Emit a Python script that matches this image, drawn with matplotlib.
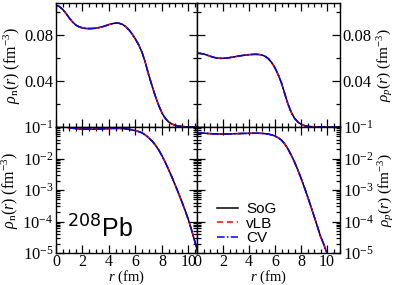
import matplotlib
matplotlib.use("Agg")
import matplotlib.pyplot as plt
import numpy as np
from matplotlib.ticker import MultipleLocator, LogLocator, NullFormatter, FixedFormatter, FixedLocator

plt.rcParams['font.family'] = 'Liberation Serif'
plt.rcParams['mathtext.fontset'] = 'custom'
plt.rcParams['mathtext.rm'] = 'Liberation Serif'
plt.rcParams['mathtext.it'] = 'Liberation Serif:italic'

# 208Pb 밀도 (fm^-3), r 간격 0.25 fm
r = np.arange(0, 11.01, 0.25)
rho_n = [0.1060, 0.1050, 0.1025, 0.0990, 0.0950, 0.0915, 0.0888, 0.0872, 0.0863,
         0.0858, 0.0857, 0.0858, 0.0861, 0.0866, 0.0873, 0.0882, 0.0892, 0.0900,
         0.0905, 0.0904, 0.0895, 0.0876, 0.0848, 0.0810, 0.0765, 0.0715, 0.0650,
         0.0560, 0.0455, 0.0360, 0.0270, 0.0190, 0.0123, 0.0076, 0.0045, 0.0026,
         0.00145, 0.00080, 0.00043, 0.000225, 0.000115, 0.000052, 0.000022,
         0.0000092, 0.0000040]
rho_p = [0.0642, 0.0641, 0.0636, 0.0627, 0.0617, 0.0608, 0.0601, 0.0598, 0.0598,
         0.0600, 0.0604, 0.0609, 0.0614, 0.0619, 0.0623, 0.0627, 0.0630, 0.0632,
         0.0633, 0.0632, 0.0627, 0.0615, 0.0594, 0.0561, 0.0515, 0.0455, 0.0383,
         0.0290, 0.0200, 0.0128, 0.0077, 0.0044, 0.0024, 0.00125, 0.00063,
         0.00031, 0.000150, 0.000072, 0.000034, 0.000019, 0.0000098, 0.0000048,
         0.0000023, 0.0000011, 0.0000005]

series = [("SoG", "black", "-"), ("vLB", "red", (0, (4, 2.5))), ("CV", "blue", (0, (5, 1.5, 1, 1.5)))]

W, H = 399, 285
fig = plt.figure(figsize=(W / 100, H / 100), dpi=100)

def box(x0, x1, y0, y1):
    return [x0 / W, (H - y1) / H, (x1 - x0) / W, (y1 - y0) / H]

ax_tl = fig.add_axes(box(56, 197, 3, 127))
ax_tr = fig.add_axes(box(197, 340, 3, 127))
ax_bl = fig.add_axes(box(56, 197, 127, 253))
ax_br = fig.add_axes(box(197, 340, 127, 253))

for ax, rho in [(ax_tl, rho_n), (ax_tr, rho_p), (ax_bl, rho_n), (ax_br, rho_p)]:
    for name, c, ls in series:
        ax.plot(r, rho, color=c, linestyle=ls, lw=1.1, label=name)
    ax.tick_params(which='both', direction='in', top=True, right=True,
                   labelsize=12, width=0.9, pad=2)
    ax.tick_params(axis='x', pad=1, labelsize=11.5)
    ax.tick_params(which='major', length=6)
    ax.tick_params(which='minor', length=3)
    ax.xaxis.set_major_locator(MultipleLocator(2))
    ax.xaxis.set_minor_locator(MultipleLocator(0.5))
    for s in ax.spines.values():
        s.set_linewidth(1.0)

ax_tl.set_xlim(0, 10.65)
ax_bl.set_xlim(0, 10.65)
ax_tr.set_xlim(0, 11.0)
ax_br.set_xlim(0, 11.0)

for ax in (ax_tl, ax_tr):
    ax.set_ylim(0, 0.108)
    ax.yaxis.set_major_locator(FixedLocator([0, 0.04, 0.08]))
    ax.yaxis.set_major_formatter(FixedFormatter(["", "0.04", "0.08"]))
    ax.yaxis.set_minor_locator(MultipleLocator(0.02))
    ax.tick_params(labelbottom=False)

for ax in (ax_bl, ax_br):
    ax.set_yscale('log')
    ax.set_ylim(1e-5, 1e-1)
    ax.yaxis.set_major_locator(LogLocator(base=10, numticks=10))
    ax.yaxis.set_minor_locator(LogLocator(base=10, subs=np.arange(2, 10), numticks=10))
    ax.yaxis.set_minor_formatter(NullFormatter())
    ax.set_xlabel(r"$r$ (fm)", fontsize=10.5)
    ax.xaxis.set_label_coords(0.5, (253 - 268.5) / 126)

for ax in (ax_tr, ax_br):
    ax.tick_params(labelleft=False, labelright=True)
    ax.yaxis.set_label_position('right')

ax_tl.set_ylabel(r"$\rho_{\rm n}(r)$ (fm$^{-3}$)", fontsize=11.5, labelpad=1)
ax_bl.set_ylabel(r"$\rho_{\rm n}(r)$ (fm$^{-3}$)", fontsize=11.5, labelpad=1)
ax_tr.set_ylabel(r"$\rho_{p}(r)$ (fm$^{-3}$)", fontsize=11, labelpad=2)
ax_br.set_ylabel(r"$\rho_{p}(r)$ (fm$^{-3}$)", fontsize=11, labelpad=2)

ax_bl.text(0.08, 0.12, r"$^{208}$Pb", transform=ax_bl.transAxes, fontsize=18,
           family='Liberation Sans', math_fontfamily='dejavusans')

ax_br.legend(loc='lower left', bbox_to_anchor=(0.14, 0.06), frameon=False,
             prop={'family': 'Liberation Sans', 'size': 11}, handlelength=1.4,
             handletextpad=0.5, labelspacing=0.05, borderpad=0, borderaxespad=0)

fig.savefig("out.png", dpi=100)
